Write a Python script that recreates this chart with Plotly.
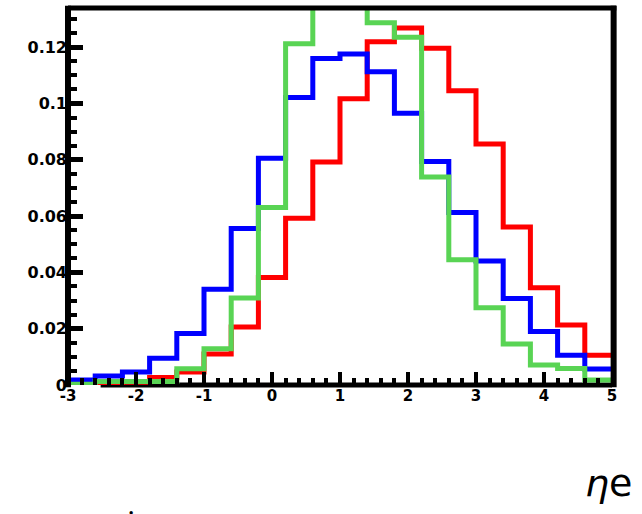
import plotly.graph_objects as go

# ---- data (20 bins of width 0.4 from -3 to 5) ----
bin_edges = [-3.0, -2.6, -2.2, -1.8, -1.4, -1.0, -0.6, -0.2, 0.2, 0.6, 1.0,
             1.4, 1.8, 2.2, 2.6, 3.0, 3.4, 3.8, 4.2, 4.6, 5.0]

red_vals = [0.0003, 0.0006, 0.0010, 0.0027, 0.0046, 0.0110, 0.0206, 0.0382,
            0.0592, 0.0792, 0.1017, 0.1219, 0.1268, 0.1196, 0.1045, 0.0856,
            0.0561, 0.0345, 0.0213, 0.0106]
blue_vals = [0.0018, 0.0032, 0.0046, 0.0095, 0.0183, 0.0340, 0.0556, 0.0805,
             0.1021, 0.1160, 0.1176, 0.1113, 0.0965, 0.0794, 0.0613, 0.0440,
             0.0307, 0.0190, 0.0106, 0.0057]
green_vals = [0.0003, 0.0012, 0.0012, 0.0012, 0.0058, 0.0129, 0.0309, 0.0630,
              0.1212, 0.1420, 0.1450, 0.1287, 0.1235, 0.0739, 0.0445, 0.0274,
              0.0146, 0.0071, 0.0059, 0.0018]

x_tick_vals = [-3, -2, -1, 0, 1, 2, 3, 4, 5]
x_tick_text = ["-3", "-2", "-1", "0", "1", "2", "3", "4", "5"]
y_tick_vals = [0, 0.02, 0.04, 0.06, 0.08, 0.10, 0.12]
y_tick_text = ["0", "0.02", "0.04", "0.06", "0.08", "0.1", "0.12"]

series = [
    ("red", red_vals, "#ff0000"),
    ("blue", blue_vals, "#0000ff"),
    ("green", green_vals, "#59d454"),
]

fig = go.Figure()
for name, vals, col in series:
    fig.add_trace(go.Scatter(
        x=bin_edges, y=vals + [vals[-1]],
        mode="lines", line=dict(shape="hv", color=col, width=5),
        name=name, showlegend=False, hoverinfo="skip",
    ))

fig.update_layout(
    width=642, height=514,
    margin=dict(l=68, r=30, t=7.5, b=129, pad=0),
    paper_bgcolor="white", plot_bgcolor="white",
    showlegend=False,
    xaxis=dict(
        range=[-3, 5], showgrid=False, zeroline=False, showline=False,
        tickmode="array", tickvals=x_tick_vals, ticktext=x_tick_text,
        ticks="inside", ticklen=13, tickwidth=4, tickcolor="black",
        minor=dict(ticks="inside", dtick=0.2, tick0=-3, ticklen=7,
                   tickwidth=4, tickcolor="black", showgrid=False),
        tickfont=dict(family="DejaVu Sans", size=15, color="black", weight="bold"),
        layer="above traces",
    ),
    yaxis=dict(
        range=[0, 0.1339], showgrid=False, zeroline=False, showline=False,
        tickmode="array", tickvals=y_tick_vals, ticktext=y_tick_text,
        ticks="inside", ticklen=15, tickwidth=5, tickcolor="black",
        minor=dict(ticks="inside", dtick=0.005, tick0=0, ticklen=9,
                   tickwidth=4, tickcolor="black", showgrid=False),
        tickfont=dict(family="DejaVu Sans", size=16, color="black", weight="bold"),
        layer="above traces",
    ),
)

# frame: bottom axis below the histograms, others above
fig.add_shape(type="line", xref="paper", yref="paper", x0=0.06, x1=1, y0=0, y1=0,
              line=dict(color="black", width=5), layer="below")
fig.add_shape(type="line", xref="paper", yref="paper", x0=0, x1=0, y0=-0.006, y1=1.006,
              line=dict(color="black", width=6), layer="above")
fig.add_shape(type="line", xref="paper", yref="paper", x0=1.003, x1=1.003, y0=-0.006, y1=1.006,
              line=dict(color="black", width=6), layer="above")
fig.add_shape(type="line", xref="paper", yref="paper", x0=0, x1=1.008, y0=1, y1=1,
              line=dict(color="black", width=5), layer="above")

plot_w = 544.0
plot_h = 377.5

def px(xp):
    return (xp - 68) / plot_w

def py(yp):
    return (385 - yp) / plot_h

fig.add_annotation(text="<i>η</i>e", xref="paper", yref="paper",
                   x=px(634), y=py(483), xanchor="right", yanchor="middle",
                   showarrow=False,
                   font=dict(family="DejaVu Sans", size=38, color="black"))
fig.add_annotation(text="i", xref="paper", yref="paper",
                   x=px(131), y=py(524), xanchor="center", yanchor="middle",
                   showarrow=False,
                   font=dict(family="Noto Sans", size=32, color="black"))

fig.write_html("out.html",
               config={"displayModeBar": False},
               post_script="document.body.style.margin='0';document.body.style.overflow='hidden';")
